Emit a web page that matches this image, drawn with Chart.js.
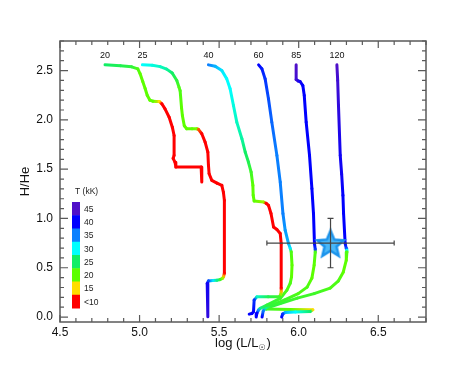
<!DOCTYPE html>
<html>
<head>
<meta charset="utf-8">
<script src="https://cdn.jsdelivr.net/npm/chart.js@4.4.1/dist/chart.umd.min.js"></script>
<style>
  html, body { margin: 0; padding: 0; background: #fff; }
</style>
</head>
<body>
<canvas id="hrChart" width="463" height="371"></canvas>
<script>
// initial masses of the tracks (labels above each track)
const trackNames = ["20", "25", "40", "60", "85", "120"];

// each track: log L, H/He and effective temperature (kK) along the track
const m20X = [4.783, 4.88, 4.95, 4.989, 5.003, 5.020, 5.035, 5.048, 5.065, 5.085, 5.105, 5.125, 5.140, 5.160, 5.186, 5.206, 5.217, 5.217, 5.211, 5.223, 5.228, 5.387, 5.391];
const m20Y = [2.558, 2.550, 2.538, 2.517, 2.47, 2.39, 2.318, 2.25, 2.200, 2.189, 2.187, 2.186, 2.163, 2.112, 2.027, 1.926, 1.842, 1.640, 1.609, 1.569, 1.521, 1.521, 1.369];
const m20T = [25, 24, 23, 21, 20, 20, 20, 20, 20, 20, 18, 15, 10, 9, 9, 9, 9, 9, 9, 9, 9, 9, 9];

const m25X = [5.018, 5.08, 5.129, 5.170, 5.205, 5.234, 5.248, 5.255, 5.264, 5.269, 5.281, 5.296, 5.330, 5.360, 5.370, 5.391, 5.412, 5.429, 5.433, 5.437, 5.454, 5.486, 5.517, 5.527, 5.533, 5.533, 5.528, 5.521, 5.505, 5.486, 5.460, 5.433, 5.425, 5.429];
const m25Y = [2.558, 2.553, 2.540, 2.515, 2.475, 2.399, 2.33, 2.295, 2.12, 2.045, 1.94, 1.910, 1.910, 1.910, 1.903, 1.859, 1.774, 1.673, 1.538, 1.454, 1.387, 1.359, 1.336, 1.265, 1.184, 0.445, 0.41, 0.392, 0.380, 0.374, 0.370, 0.367, 0.341, 0.003];
const m25T = [30, 29, 28, 27, 25, 23, 21, 21, 20, 20, 20, 20, 20, 19, 12, 9, 9, 9, 9, 9, 9, 9, 9, 9, 9, 10, 14, 18, 22, 26, 31, 37, 41, 43];

const m40X = [5.433, 5.475, 5.517, 5.548, 5.569, 5.590, 5.611, 5.643, 5.664, 5.684, 5.701, 5.712, 5.714, 5.720, 5.779, 5.796, 5.810, 5.826, 5.842, 5.863, 5.884, 5.890, 5.890, 5.890, 5.887, 5.879, 5.808, 5.737, 5.720, 5.716, 5.706, 5.689];
const m40Y = [2.558, 2.544, 2.500, 2.416, 2.315, 2.146, 1.977, 1.809, 1.673, 1.572, 1.471, 1.336, 1.235, 1.177, 1.167, 1.154, 1.134, 1.050, 0.914, 0.888, 0.847, 0.746, 0.294, 0.256, 0.228, 0.205, 0.205, 0.205, 0.172, 0.054, 0.037, 0.030];
const m40T = [35, 33, 31, 30, 30, 29, 28, 27, 25, 24, 22, 20, 20, 20, 18, 10, 9, 9, 9, 9, 9, 9, 10, 14, 18, 22, 24, 28, 38, 40, 40, 40];

const m60X = [5.748, 5.769, 5.789, 5.810, 5.831, 5.863, 5.884, 5.901, 5.915, 5.936, 5.947, 5.953, 5.958, 5.955, 5.947, 5.926, 5.884, 5.800, 5.758, 5.747, 5.737, 5.733];
const m60Y = [2.558, 2.517, 2.416, 2.214, 1.977, 1.640, 1.369, 1.050, 0.881, 0.746, 0.695, 0.661, 0.526, 0.408, 0.344, 0.273, 0.189, 0.121, 0.088, 0.071, 0.037, 0.000];
const m60T = [40, 39, 38, 37, 36, 35, 35, 35, 34, 33, 31, 21, 20, 20, 21, 21, 22, 23, 26, 34, 40, 40];

const m85X = [5.984, 5.984, 5.997, 6.009, 6.026, 6.035, 6.047, 6.068, 6.083, 6.093, 6.099, 6.104, 6.104, 6.097, 6.083, 6.053, 5.997, 5.909, 5.821, 5.789, 5.777, 5.770];
const m85Y = [2.558, 2.409, 2.394, 2.389, 2.348, 2.247, 1.977, 1.640, 1.303, 1.050, 0.746, 0.688, 0.658, 0.526, 0.395, 0.304, 0.238, 0.172, 0.116, 0.091, 0.061, 0.000];
const m85T = [45, 44, 42, 41, 40, 40, 40, 40, 40, 40, 40, 38, 21, 20, 20, 21, 21, 22, 23, 27, 35, 40];

const m120X = [6.240, 6.245, 6.250, 6.261, 6.270, 6.278, 6.282, 6.292, 6.299, 6.302, 6.303, 6.299, 6.280, 6.248, 6.198, 6.097, 5.991, 5.884, 5.808, 5.796, 5.947, 6.089, 6.072, 5.978, 5.915, 5.899, 5.893];
const m120Y = [2.558, 2.40, 2.146, 1.640, 1.45, 1.235, 1.050, 0.746, 0.695, 0.678, 0.661, 0.577, 0.455, 0.364, 0.294, 0.238, 0.192, 0.137, 0.096, 0.081, 0.078, 0.074, 0.056, 0.051, 0.046, 0.030, 0.000];
const m120T = [45, 44, 43, 41, 41, 40, 40, 40, 37, 30, 21, 20, 20, 21, 21, 22, 22, 23, 23, 22, 20, 15, 25, 30, 33, 38, 40];

// observed star with error bars
const starX = [6.2];
const starY = [0.75];
const starErrX = [0.4];
const starErrY = [0.25];

// temperature colour scale (legend from top to bottom)
const legendTemps = [45, 40, 35, 30, 25, 20, 15, 10];
const legendLabels = ["45", "40", "35", "30", "25", "20", "15", "<10"];
const legendColors = ["#5010c8", "#0000ff", "#0a80ff", "#00ffff", "#11ee66", "#5cff00", "#ffdd00", "#ff0000"];

Chart.defaults.font.family = "'Liberation Sans', Arial, sans-serif";
Chart.defaults.color = "#111";

function hexToRgb(h) {
  return [parseInt(h.slice(1, 3), 16), parseInt(h.slice(3, 5), 16), parseInt(h.slice(5, 7), 16)];
}

function tempColor(t) {
  if (t >= legendTemps[0]) return legendColors[0];
  if (t <= legendTemps[legendTemps.length - 1]) return legendColors[legendColors.length - 1];
  for (let i = 0; i < legendTemps.length - 1; i++) {
    const hi = legendTemps[i], lo = legendTemps[i + 1];
    if (t <= hi && t >= lo) {
      const f = (t - lo) / (hi - lo);
      const a = hexToRgb(legendColors[i + 1]), b = hexToRgb(legendColors[i]);
      const c = a.map((v, k) => Math.round(v + (b[k] - v) * f));
      return `rgb(${c[0]},${c[1]},${c[2]})`;
    }
  }
  return legendColors[0];
}

function segColor(ctx, temps) {
  const c0 = tempColor(temps[ctx.p0DataIndex]);
  const c1 = tempColor(temps[ctx.p1DataIndex]);
  const p0 = ctx.p0, p1 = ctx.p1;
  if (c0 === c1 || (Math.abs(p1.x - p0.x) < 0.3 && Math.abs(p1.y - p0.y) < 0.3)) return c0;
  const g = ctx.chart.ctx.createLinearGradient(p0.x, p0.y, p1.x, p1.y);
  g.addColorStop(0, c0);
  g.addColorStop(1, c1);
  return g;
}

const tracks = [
  { x: m20X, y: m20Y, t: m20T },
  { x: m25X, y: m25Y, t: m25T },
  { x: m40X, y: m40Y, t: m40T },
  { x: m60X, y: m60Y, t: m60T },
  { x: m85X, y: m85Y, t: m85T },
  { x: m120X, y: m120Y, t: m120T },
];

const trackDatasets = tracks.map((tr, k) => ({
  label: trackNames[k],
  data: tr.x.map((x, i) => ({ x: x, y: tr.y[i] })),
  showLine: true,
  pointRadius: 0,
  borderWidth: 3,
  borderColor: tempColor(tr.t[0]),
  borderCapStyle: "round",
  borderJoinStyle: "round",
  tension: 0,
  order: 1,
  segment: {
    borderColor: (ctx) => segColor(ctx, tr.t),
    // unique offset so every segment keeps its own gradient
    borderDashOffset: (ctx) => ctx.p0DataIndex * 0.001,
  },
}));

function makeStar(r) {
  const c = document.createElement("canvas");
  const s = Math.ceil(r * 2 + 6);
  c.width = s;
  c.height = s;
  const g = c.getContext("2d");
  g.translate(s / 2, s / 2 + 1.5);
  g.beginPath();
  for (let i = 0; i < 10; i++) {
    const rad = i % 2 ? r * 0.45 : r;
    const a = -Math.PI / 2 + (i * Math.PI) / 5;
    g.lineTo(rad * Math.cos(a), rad * Math.sin(a));
  }
  g.closePath();
  g.fillStyle = "#4ab8f8";
  g.fill();
  g.lineJoin = "miter";
  g.lineWidth = 2.5;
  g.strokeStyle = "#1c94ec";
  g.stroke();
  return c;
}

const starDataset = {
  label: "star",
  data: starX.map((x, i) => ({ x: x, y: starY[i] })),
  pointStyle: makeStar(14),
  pointRadius: 14,
  order: 0,
};

const frameTicks = {
  id: "frameTicks",
  beforeDatasetsDraw(chart) {
    const { ctx, chartArea: a, scales: { x, y } } = chart;
    ctx.save();
    ctx.strokeStyle = "#5a5a5a";
    ctx.lineWidth = 1.2;
    ctx.beginPath();
    for (let i = 45; i <= 68; i++) {
      const px = x.getPixelForValue(i / 10);
      const len = i % 5 === 0 ? 7 : 4;
      ctx.moveTo(px, a.bottom);
      ctx.lineTo(px, a.bottom - len);
      ctx.moveTo(px, a.top);
      ctx.lineTo(px, a.top + len);
    }
    for (let i = 0; i <= 28; i++) {
      const py = y.getPixelForValue(i / 10);
      const len = i % 5 === 0 ? 8 : 4;
      ctx.moveTo(a.left, py);
      ctx.lineTo(a.left + len, py);
      ctx.moveTo(a.right, py);
      ctx.lineTo(a.right - len, py);
    }
    ctx.stroke();
    ctx.lineWidth = 1.5;
    ctx.strokeRect(a.left, a.top, a.right - a.left, a.bottom - a.top);
    ctx.restore();
  },
};

const trackLabels = {
  id: "trackLabels",
  afterDatasetsDraw(chart) {
    const { ctx, chartArea: a, scales: { x } } = chart;
    ctx.save();
    ctx.font = "9px 'Liberation Sans', Arial, sans-serif";
    ctx.fillStyle = "#111";
    ctx.textAlign = "center";
    ctx.textBaseline = "middle";
    tracks.forEach((tr, k) => {
      ctx.fillText(trackNames[k], x.getPixelForValue(tr.x[0]), a.top + 15);
    });
    ctx.restore();
  },
};

const colorBar = {
  id: "colorBar",
  afterDatasetsDraw(chart) {
    const { ctx, chartArea: a } = chart;
    const left = a.left + 12, top = a.top + 161, w = 8, h = 13.25;
    ctx.save();
    ctx.font = "8.5px 'Liberation Sans', Arial, sans-serif";
    ctx.textAlign = "left";
    ctx.textBaseline = "middle";
    ctx.fillStyle = "#222";
    ctx.fillText("T (kK)", left + 3, top - 10.5);
    legendLabels.forEach((lab, i) => {
      ctx.fillStyle = legendColors[i];
      ctx.fillRect(left, top + i * h, w, h + 0.5);
      ctx.fillStyle = "#222";
      ctx.fillText(lab, left + 12, top + i * h + h / 2 + 1);
    });
    ctx.restore();
  },
};

const errorBars = {
  id: "errorBars",
  afterDatasetsDraw(chart) {
    const { ctx, scales: { x, y } } = chart;
    ctx.save();
    ctx.strokeStyle = "#444";
    ctx.lineWidth = 1.2;
    starX.forEach((sx, i) => {
      const cx = x.getPixelForValue(sx), cy = y.getPixelForValue(starY[i]);
      const x0 = x.getPixelForValue(sx - starErrX[i]), x1 = x.getPixelForValue(sx + starErrX[i]);
      const y0 = y.getPixelForValue(starY[i] - starErrY[i]), y1 = y.getPixelForValue(starY[i] + starErrY[i]);
      ctx.beginPath();
      ctx.moveTo(x0, cy); ctx.lineTo(x1, cy);
      ctx.moveTo(x0, cy - 2.5); ctx.lineTo(x0, cy + 2.5);
      ctx.moveTo(x1, cy - 2.5); ctx.lineTo(x1, cy + 2.5);
      ctx.moveTo(cx, y0); ctx.lineTo(cx, y1);
      ctx.moveTo(cx - 3, y0); ctx.lineTo(cx + 3, y0);
      ctx.moveTo(cx - 3, y1); ctx.lineTo(cx + 3, y1);
      ctx.stroke();
    });
    ctx.restore();
  },
};

const xTitle = {
  id: "xTitle",
  afterDraw(chart) {
    const { ctx, chartArea: a } = chart;
    const main = "13px 'Liberation Sans', Arial, sans-serif";
    const sub = "8px 'DejaVu Sans', sans-serif";
    ctx.save();
    ctx.fillStyle = "#111";
    ctx.textBaseline = "alphabetic";
    ctx.font = main;
    const w1 = ctx.measureText("log (L/L").width;
    const w3 = ctx.measureText(")").width;
    ctx.font = sub;
    const w2 = ctx.measureText("\u2609").width;
    let px = (a.left + a.right) / 2 - (w1 + w2 + w3 + 1) / 2;
    const base = 347;
    ctx.font = main;
    ctx.fillText("log (L/L", px, base);
    px += w1;
    ctx.font = sub;
    ctx.fillText("\u2609", px, base + 3);
    px += w2 + 1;
    ctx.font = main;
    ctx.fillText(")", px, base);
    ctx.restore();
  },
};

new Chart(document.getElementById("hrChart"), {
  type: "scatter",
  data: { datasets: [starDataset, ...trackDatasets] },
  options: {
    responsive: false,
    animation: false,
    devicePixelRatio: 1,
    layout: { padding: { left: 14, right: 37, top: 41, bottom: 14 } },
    plugins: {
      legend: { display: false },
      tooltip: { enabled: false },
    },
    scales: {
      x: {
        type: "linear",
        min: 4.5,
        max: 6.8,
        grid: { display: false, drawTicks: false },
        border: { display: false },
        ticks: {
          stepSize: 0.5,
          includeBounds: false,
          padding: 3,
          color: "#111",
          font: { size: 12 },
          maxRotation: 0,
          callback: (v) => v.toFixed(1),
        },
        afterFit: (s) => { s.height = 35; },
      },
      y: {
        type: "linear",
        min: -0.05,
        max: 2.8,
        grid: { display: false, drawTicks: false },
        border: { display: false },
        ticks: {
          stepSize: 0.5,
          includeBounds: false,
          padding: 7,
          color: "#111",
          font: { size: 12 },
          callback: (v) => v.toFixed(1),
        },
        title: {
          display: true,
          text: "H/He",
          color: "#111",
          font: { size: 13 },
          padding: { top: 4, bottom: 0 },
        },
        afterFit: (s) => { s.width = 46; },
      },
    },
  },
  plugins: [frameTicks, trackLabels, colorBar, errorBars, xTitle],
});
</script>
</body>
</html>
